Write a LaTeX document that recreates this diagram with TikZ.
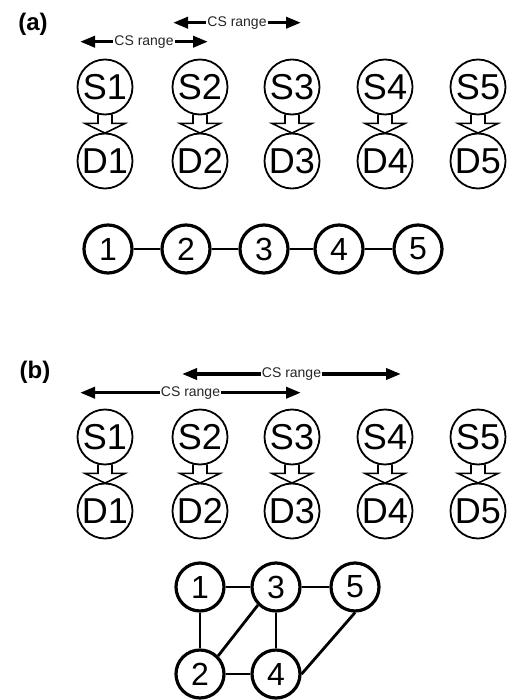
\documentclass[tikz,border=0pt]{standalone}
\usepackage{fontspec}
\setmainfont{Liberation Sans}
\usetikzlibrary{arrows.meta,calc}
\begin{document}
\begin{tikzpicture}[x=1pt,y=-1pt,
 sd/.style={circle,draw,line width=1.8pt,minimum size=55pt,inner sep=0pt,font=\fontsize{36}{36}\selectfont},
 gn/.style={circle,draw,line width=3.2pt,minimum size=48pt,inner sep=0pt,font=\fontsize{32}{32}\selectfont},
 ge/.style={line width=2.8pt},
 csr/.style={line width=3.5pt,{Triangle[length=15pt,width=11pt]}-{Triangle[length=15pt,width=11pt]}},
 csl/.style={font=\fontsize{14}{14}\selectfont,fill=white,inner sep=1pt,text=black!85},
 lab/.style={font=\bfseries\fontsize{24}{24}\selectfont},
 ha/.style={draw,line width=1.6pt,line join=miter}
]
\useasboundingbox (0,0) rectangle (506,700);
% labels
\node[lab] (la) at (33,24) {(a)};
\node[lab] (lb) at (35,372) {(b)};
% CS range arrows
\coordinate (ua1) at (173,22.7); \coordinate (ua2) at (301,22.7);
\coordinate (da1) at (80,41.7);  \coordinate (da2) at (208,41.7);
\coordinate (ub1) at (182,374);  \coordinate (ub2) at (401,374);
\coordinate (db1) at (80,392.7); \coordinate (db2) at (301,392.7);
\draw[csr] (ua1) -- node[csl] (ta1) {CS range} (ua2);
\draw[csr] (da1) -- node[csl] (ta2) {CS range} (da2);
\draw[csr] (ub1) -- node[csl] (tb1) {CS range} (ub2);
\draw[csr] (db1) -- node[csl] (tb2) {CS range} (db2);
% S/D nodes
\foreach \i/\x in {1/105,2/200,3/292,4/385,5/478}{
  \node[sd] (aS\i) at (\x,87) {S\i};
  \node[sd] (aD\i) at (\x,161) {D\i};
  \node[sd] (bS\i) at (\x,437) {S\i};
  \node[sd] (bD\i) at (\x,511) {D\i};
}
\foreach \p in {a,b}{
 \foreach \i in {1,...,5}{
  \draw[ha] ($(\p S\i.south)+(-7,-1)$) -- ++(0,9) -- ++(-13,0)
     -- ($(\p D\i.north)+(0,0.5)$) -- ($(\p S\i.south)+(20,8)$) -- ++(-13,0) -- ++(0,-9);
 }
}
% graph (a)
\foreach \i/\x in {1/108,2/186,3/264,4/339,5/418}{
  \node[gn] (ga\i) at (\x,249) {\i};
}
\draw[ge] (ga1) -- (ga2);
\draw[ge] (ga2) -- (ga3);
\draw[ge] (ga3) -- (ga4);
\draw[ge] (ga4) -- (ga5);
% graph (b)
\node[gn] (gb1) at (200,587) {1};
\node[gn] (gb3) at (276,587) {3};
\node[gn] (gb5) at (355,587) {5};
\node[gn] (gb2) at (200,674) {2};
\node[gn] (gb4) at (276,674) {4};
\draw[ge] (gb1) -- (gb3);
\draw[ge] (gb3) -- (gb5);
\draw[ge] (gb1) -- (gb2);
\draw[ge] (gb3) -- (gb4);
\draw[ge] (gb2) -- (gb4);
\draw[ge] (gb2.north east) -- (gb3.south west);
\draw[ge] (gb4.east) -- (gb5.south);
\end{tikzpicture}
\end{document}
